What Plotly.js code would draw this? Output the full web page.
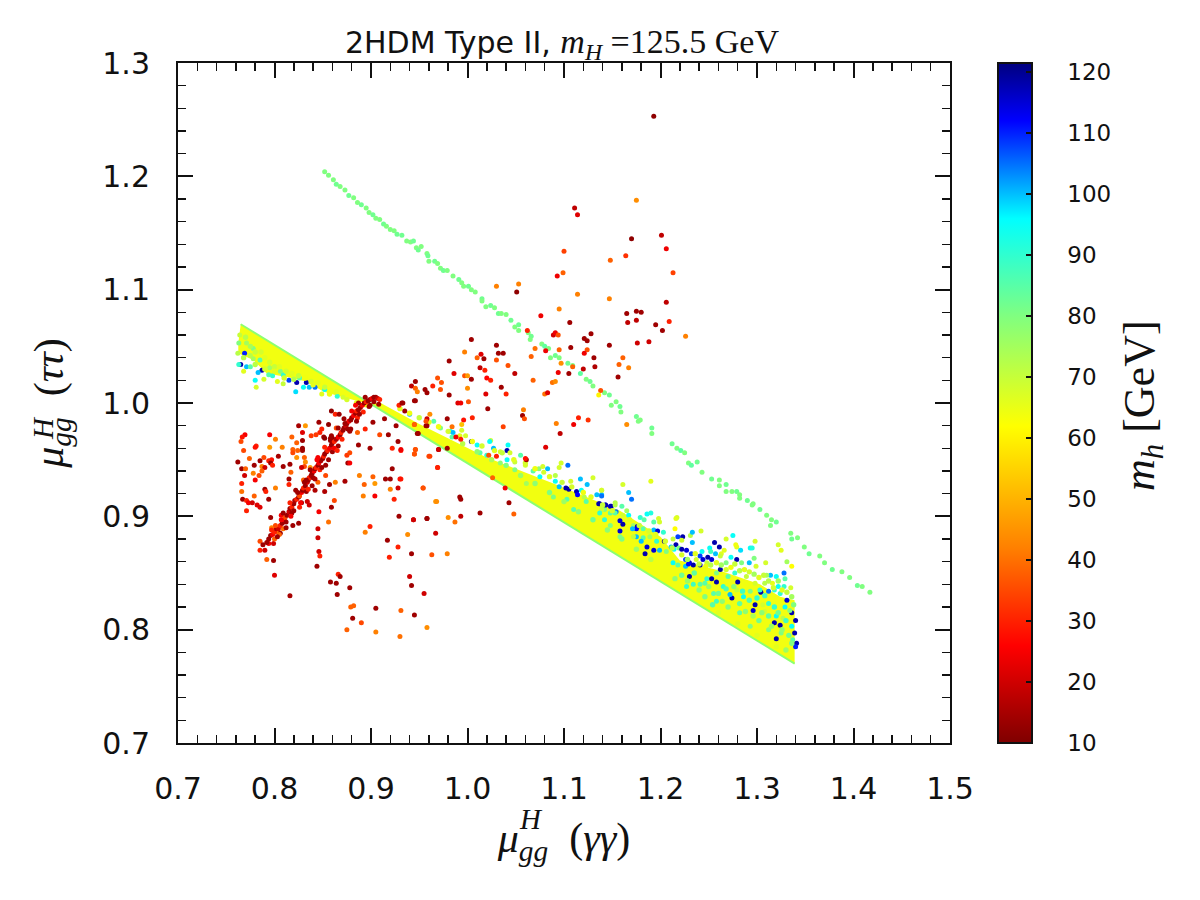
<!DOCTYPE html>
<html><head><meta charset="utf-8">
<script src="https://cdn.plot.ly/plotly-3.0.1.min.js"></script>
<style>html,body{margin:0;padding:0;background:#fff}</style></head>
<body><div id="chart" style="width:1200px;height:900px"></div>
<script>
// envelope of the densely populated band
const bandX=[.765,1.339,1.339,1.324,1.303,1.262,1.220,1.200,1.158,1.089,1.020,.951,.910,.895,.871,.851,.833,.813,.792,.778,.7625,.7625];
const bandY=[1.0695,.770,.826,.829,.840,.852,.861,.882,.905,.929,.952,.981,1.000,.9997,1.005,1.010,1.019,1.023,1.026,1.038,1.044,1.053];
const edgeX=[.765,1.339];
const edgeY=[1.0695,.770];
// coloured points on the band
const upX=[1.161,1.190,1.167,1.170,1.139,1.139,1.143,1.137,1.148,1.153,1.154,1.160,1.165,1.167,1.161,1.142,1.148,1.153,1.139,1.158,1.161,1.172,1.176,1.175,1.171,1.179,1.186,1.190,1.183,1.193,1.198,1.199,1.217,1.216,1.215,1.193,1.197,1.203,1.182,1.158,1.189,1.182,1.175,1.204,1.213,1.218,1.223,1.222,1.231,1.233,1.242,1.233,1.216,1.211,1.214,1.219,1.222,1.227,1.232,1.243,1.251,1.256,1.261,1.257,1.252,1.241,1.244,1.249,1.253,1.226,1.230,1.237,1.226,1.268,1.275,1.279,1.278,1.298,1.283,1.293,1.295,1.266,1.263,1.262,1.273,1.279,1.284,1.292,1.297,1.309,1.322,1.325,1.331,1.336,1.268,1.299,1.328,1.320,1.314,1.310,1.329,1.308,1.316,1.322,1.328,1.335,1.331,1.336,1.340,1.339,1.341,1.340,1.324,1.318,1.312,1.304,1.293,1.298,1.289,1.280,1.277,1.262,1.258,1.241,1.234,1.229,1.248,1.230,1.248,1.253,1.258,1.246,1.270,1.274,1.272,1.298,1.296,1.306,1.312,1.308,1.320,1.318,1.324,1.329,1.334,1.327,1.325,1.320,1.336,1.337,1.303,1.286,1.279,1.265,1.255,1.241,1.227,1.213,1.199,1.196,1.186,1.193,1.184,1.180,1.172,1.158,1.148,1.142,1.206,1.218,1.234,1.258,1.282,1.293,1.312,
.940,.965,.972,.982,.985,.998,.994,1.004,1.010,1.024,1.023,1.027,1.042,1.041,1.034,1.044,1.055,1.049,1.041,1.060,1.074,1.078,1.083,1.079,1.091,1.097,1.095,1.104,1.091,1.095,1.102,1.105,1.117,1.124,1.130,1.107,1.113,1.114,1.118,1.121,1.134,1.139,1.139,1.136,1.143,1.149,1.153,1.123,1.075,1.068,1.020,1.013,.984,1.049,1.089,1.110,1.137,1.103,1.061,1.034,
.763,.762,.769,.765,.763,.771,.768,.775,.787,.783,.780,.781,.789,.794,.798,.803,.809,.815,.823,.822,.830,.833,.836,.842,.852,.849,.865,.871,.809,.778,.785,.775,.795,.806,.826,.771,.764,.778];
const upY=[.928,.931,.921,.915,.923,.919,.910,.911,.909,.912,.904,.909,.905,.901,.901,.906,.903,.903,.906,.896,.893,.892,.891,.889,.889,.899,.902,.903,.897,.895,.898,.895,.899,.898,.889,.888,.887,.886,.889,.887,.882,.881,.882,.878,.880,.882,.882,.879,.883,.886,.887,.877,.875,.873,.871,.872,.871,.870,.867,.869,.872,.877,.873,.867,.869,.865,.862,.864,.862,.862,.859,.862,.856,.880,.883,.873,.875,.878,.870,.872,.872,.870,.867,.865,.864,.862,.859,.859,.863,.859,.875,.870,.860,.856,.859,.856,.850,.847,.848,.848,.845,.841,.841,.838,.838,.837,.826,.815,.808,.797,.788,.785,.832,.835,.834,.833,.834,.841,.847,.842,.850,.853,.850,.857,.857,.858,.859,.847,.845,.845,.842,.841,.847,.828,.831,.822,.817,.822,.823,.816,.812,.806,.804,.820,.817,.810,.797,.792,.803,.791,.835,.829,.835,.838,.832,.840,.838,.859,.870,.878,.873,.870,.867,.878,.882,.882,.892,.897,.869,.857,.840,.825,.815,.803,.800,
.990,.984,.978,.975,.974,.971,.976,.966,.963,.967,.966,.960,.963,.958,.957,.956,.954,.948,.950,.945,.942,.944,.942,.939,.936,.947,.943,.945,.931,.926,.925,.924,.933,.928,.934,.931,.922,.919,.923,.917,.919,.918,.923,.911,.910,.909,.910,.913,.935,.940,.954,.956,.970,.941,.917,.906,.903,.915,.929,.947,
1.053,1.044,1.044,1.034,1.034,1.032,1.028,1.032,1.029,1.027,1.020,1.014,1.021,1.025,1.024,1.019,1.017,1.020,1.018,1.010,1.014,1.018,1.014,1.014,1.012,1.008,1.006,1.005,1.025,1.048,1.038,1.042,1.031,1.028,1.022,1.053,1.060,1.039];
const upM=[68,66,100,105,68,100,115,118,115,72,105,85,75,95,68,80,85,85,70,115,118,75,118,112,100,90,95,92,85,85,68,68,68,66,62,100,115,90,85,115,75,85,100,118,70,108,118,68,72,100,68,100,118,100,95,80,118,115,108,95,95,118,118,100,88,108,115,118,115,108,115,68,100,68,95,66,64,68,98,95,92,66,66,70,95,118,80,100,80,68,68,66,75,62,80,68,105,95,100,75,85,72,65,95,90,68,115,118,118,118,118,110,90,90,105,118,80,68,70,118,90,118,80,118,118,112,70,118,90,118,118,85,85,118,100,118,115,68,90,68,95,118,118,95,80,72,80,118,95,85,90,95,70,90,85,85,90,95,100,90,115,115,118,100,70,80,80,90,80,85,88,88,85,80,80,
100,85,80,95,100,68,68,118,95,70,95,100,95,118,68,68,85,70,95,68,78,68,100,68,72,68,68,105,95,100,118,118,100,100,68,68,118,112,95,72,100,105,68,118,118,118,72,85,95,85,90,85,85,80,80,85,90,85,75,78,
80,72,110,118,90,100,66,85,118,100,95,68,68,85,90,66,70,108,118,98,95,118,100,105,95,66,90,68,90,80,85,72,75,80,85,75,70,75];
// yellow-green points filling the band
const fillX=[1.205,1.212,1.222,1.228,1.236,1.240,1.247,1.252,1.258,1.263,1.268,1.273,1.277,1.282,1.287,1.292,1.297,1.302,1.307,1.312,1.317,1.322,1.326,1.331,1.336,1.338,
1.215,1.222,1.228,1.235,1.240,1.246,1.250,1.254,1.260,1.264,1.268,1.270,1.276,1.282,1.285,1.288,1.292,1.296,1.300,1.302,1.305,1.308,1.312,1.315,1.318,1.322,1.326,1.330,1.333,1.336,1.330,1.320,1.300,1.280,1.260,
1.19,1.175,1.16,1.145,1.13,1.115,1.10,1.085,1.07,1.055,1.04,1.025,1.01,.995,
1.195,1.188,1.178,1.168,1.15,1.14,1.128,1.12,1.108,1.098,1.085,1.07,1.06,1.048,1.036,1.028,1.015,1.005,.992,.98,.97,.96,.95,.94,.93,
.770,.775,.780,.786,.790,.795,.800,.805,.812,.818,.825,.832,.838,.845,.852,.858,.864,.78,.79,.80,.81,.82,.84,.857,.875,.885,.895,.768];
const fillY=[.878,.872,.866,.862,.867,.858,.856,.857,.859,.857,.853,.855,.858,.852,.853,.851,.849,.846,.848,.843,.837,.843,.835,.833,.829,.822,
.845,.848,.843,.850,.835,.829,.838,.822,.832,.825,.836,.820,.838,.823,.834,.816,.826,.812,.828,.808,.815,.830,.812,.803,.820,.815,.800,.808,.795,.788,.782,.785,.795,.805,.815,
.862,.871,.880,.888,.897,.904,.913,.921,.929,.936,.945,.950,.957,.964,
.884,.887,.892,.897,.905,.910,.917,.921,.926,.930,.935,.942,.947,.950,.956,.958,.962,.966,.971,.975,.979,.983,.987,.991,.995,
1.058,1.050,1.045,1.045,1.040,1.036,1.032,1.032,1.028,1.026,1.024,1.022,1.019,1.018,1.014,1.011,1.010,1.034,1.030,1.028,1.022,1.021,1.016,1.008,1.003,1.000,.9985,1.040];
const fillM=[68,72,68,75,66,70,64,72,66,75,68,64,70,72,66,68,75,66,70,72,68,75,66,70,75,80,
78,82,76,84,78,80,76,85,82,78,86,80,78,84,88,78,86,74,90,82,78,88,84,76,90,82,78,88,82,80,76,66,66,66,66,
72,76,80,78,82,78,76,80,78,76,80,74,78,72,
66,68,70,66,68,70,66,64,68,70,66,64,68,66,70,66,68,64,66,68,64,66,70,64,66,
72,74,70,68,66,68,70,66,68,66,70,64,68,66,70,64,66,72,68,66,68,72,66,64,68,66,64,72];
// upper straight sequence of points
const lineX=[.852,.856,.861,.864,.868,.873,.877,.882,.886,.890,.895,.898,.902,.905,.909,.913,.916,.920,.924,.927,.932,.937,.941,.944,.947,.949,.952,.958,.959,.960,.966,.969,.972,.975,.979,.985,.991,.994,.996,1.001,1.004,1.008,1.015,1.015,1.019,1.024,1.028,1.032,1.035,1.040,1.045,1.049,1.053,1.053,1.063,1.066,1.065,1.077,1.080,1.084,1.086,1.091,1.095,1.104,1.109,1.117,1.123,1.127,1.130,1.142,1.147,1.149,1.154,1.158,1.159,1.175,1.177,1.179,1.191,1.191,1.212,1.217,1.221,1.225,1.229,1.232,1.238,1.243,1.253,1.261,1.261,1.268,1.268,1.274,1.279,1.282,1.282,1.290,1.295,1.296,1.303,1.310,1.315,1.320,1.314,1.335,1.336,1.342,1.349,1.354,1.365,1.370,1.378,1.388,1.396,1.404,1.409,1.417];
const lineY=[1.204,1.201,1.197,1.193,1.191,1.188,1.183,1.181,1.177,1.175,1.172,1.168,1.166,1.163,1.162,1.158,1.156,1.153,1.152,1.149,1.148,1.143,1.142,1.143,1.137,1.135,1.138,1.132,1.130,1.125,1.125,1.123,1.119,1.117,1.117,1.112,1.109,1.106,1.103,1.103,1.100,1.098,1.092,1.090,1.085,1.086,1.084,1.079,1.079,1.078,1.073,1.067,1.069,1.064,1.062,1.059,1.056,1.052,1.050,1.048,1.040,1.042,1.040,1.035,1.033,1.026,1.021,1.019,1.015,1.009,1.007,.998,1.001,.997,.992,.988,.984,.985,.978,.973,.964,.960,.958,.956,.947,.945,.948,.939,.933,.932,.927,.928,.922,.922,.922,.919,.916,.914,.910,.911,.906,.901,.897,.895,.892,.885,.880,.881,.873,.867,.865,.859,.853,.851,.846,.839,.838,.833];
const lineM=[80,80,80,82,80,80,82,80,80,82,80,80,82,80,80,82,80,80,80,82,82,80,80,82,80,82,80,80,82,80,82,80,80,82,80,80,82,80,80,82,80,80,82,80,80,82,80,82,80,80,82,80,82,80,80,82,80,80,84,80,80,82,80,82,80,84,80,82,80,80,82,80,80,82,80,82,80,80,82,80,82,80,84,80,80,84,82,80,82,80,80,82,80,80,82,80,80,82,80,80,82,80,80,82,80,80,82,80,80,82,80,80,82,80,80,82,80,80,80,80];
// low-mass points
const lowX=[.7694,.7666,.7653,.795,.801,.825,.832,.846,.856,.864,.859,.863,.867,.849,.847,.843,.838,.829,.818,.823,.829,.851,.852,.860,.858,.795,.808,.781,.780,.768,.829,.829,.819,.824,.819,.823,.831,.832,.804,.789,.774,.785,.797,.794,.762,.779,.796,.798,.787,.790,.809,.816,.831,.828,.837,.766,.770,.778,.769,.784,.787,.817,.780,.815,.815,.766,.830,.845,.853,.857,.863,.873,.790,.791,.801,.766,.794,.779,.767,.771,.773,.777,.782,.785,.771,.834,.836,.842,.852,.862,.859,.846,.796,.807,.856,.825,.819,.845,.845,.809,.797,.804,.785,.788,.794,.799,.785,.790,.846,.847,.792,.799,.844,.800,.866,.868,.858,.864,.878,.816,.865,.882,.879,.905,.881,.890,.875,.905,.931,.945,.930,.958,.955,.942,.940,.942,.919,.928,.917,.938,.967,.894,.899,.929,.944,.958,.924,.904,.892,.928,.920,.954,.967,.904,.893,.902,.888,.915,.920,.931,.922,.969,.960,.945,.946,.931,.922,.899,.887,.876,.878,.875,.878,.970,.894,.886,.902,.914,.926,.909,.918,.928,.948,.945,.957,.935,.929,.932,.945,
1.193,1.175,1.111,1.114,1.170,1.201,1.206,1.100,1.164,1.148,1.093,1.099,1.213,1.030,1.053,1.051,1.114,1.147,1.206,1.095,1.076,1.175,1.180,1.165,1.166,1.175,1.106,1.209,1.195,1.202,1.226,1.062,1.128,1.121,1.124,1.089,1.091,1.094,1.176,1.188,1.147,1.004,1.030,1.032,1.037,.997,1.070,1.107,1.095,1.081,1.124,1.121,1.066,1.161,1.131,1.014,1.010,1.030,1.017,.981,1.097,1.157,1.042,1.013,1.018,1.132,1.120,1.167,1.109,.986,1.049,.997,1.0,1.094,1.105,1.156,.969,.973,1.004,1.020,1.024,1.068,1.088,1.091,.946,.942,.964,.972,.946,.948,.956,.958,1.0,1.035,1.019,1.040,.981,1.080,1.083,.946,1.001,.990,.993,.933,1.021,1.058,1.057,1.059,.979,1.005,.996,1.092,1.110,1.115,1.125,1.165,1.096,1.037,.994,1.081,1.138,1.136,.970,.979,.961,.946,.945,.931,.969,1.026,1.039,1.043,.954,.930,.968,.992,.993,1.013,1.048,.993,.980,.958,.944,1.061,1.060,1.030,1.022,.949,.958,.958,.957,.945,.961,.988,.984,.993,.979,.963,.987,
.794,.796,.798,.800,.802,.804,.806,.808,.810,.811,.813,.815,.816,.818,.820,.821,.823,.825,.826,.828,.829,.830,.832,.834,.835,.836,.838,.839,.841,.842,.843,.845,.846,.848,.850,.851,.852,.854,.855,.857,.859,.860,.862,.864,.866,.868,.869,.871,.872,.874,.875,.877,.879,.880,.882,.884,.885,.887,.889,.891,.893,.895,.897,.899,.901,.903,.905,.907,.909,.908,.898,.886,.878,.860,.866,.828,.818,.812,.806,.840,.833,.847,.800,.805,.792,
.797,.803,.807,.812,.816,.820,.824,.827,.831,.835,.837,.842,.844,.849,.852,.856,.858,.862,.866,.870,.872,.876,.880,.885,.887,.892,.894,.899,.903,.801,.809,.817,.822,.826,.833,.839,.845,.853,.859,.865,.873,.879,.884,.888];
const lowY=[.972,.970,.966,.972,.968,.980,.980,.983,.981,.978,.993,.990,.990,.977,.974,.972,.971,.974,.970,.965,.967,.970,.969,.969,.967,.961,.961,.962,.961,.958,.960,.958,.959,.958,.956,.952,.952,.948,.953,.952,.951,.949,.950,.949,.948,.945,.947,.945,.944,.943,.944,.946,.944,.943,.943,.942,.942,.938,.936,.936,.940,.939,.932,.933,.928,.929,.932,.930,.936,.928,.930,.931,.924,.922,.925,.922,.915,.918,.915,.914,.912,.912,.910,.908,.905,.913,.910,.923,.922,.914,.908,.904,.899,.901,.895,.894,.892,.889,.881,.889,.890,.886,.878,.875,.876,.876,.870,.870,.869,.865,.862,.861,.856,.848,.849,.847,.842,.841,.837,.830,.831,.821,.820,.819,.810,.806,.800,.798,.817,.813,.794,.802,.832,.839,.847,.867,.864,.873,.879,.884,.885,.886,.891,.900,.897,.898,.915,.918,.918,.925,.924,.925,.913,.929,.928,.935,.936,.933,.933,.933,.942,.943,.953,.955,.959,.958,.960,.960,.963,.947,.947,.954,.956,.959,.977,.974,.983,.986,.980,.972,.972,.966,.973,.981,.980,.993,.998,1.000,1.002,
1.253,1.179,1.172,1.166,1.145,1.148,1.136,1.134,1.130,1.126,1.112,1.115,1.115,1.103,1.105,1.098,1.096,1.092,1.089,1.083,1.077,1.081,1.080,1.079,1.071,1.073,1.071,1.072,1.069,1.064,1.059,1.064,1.061,1.057,1.055,1.060,1.062,1.060,1.053,1.054,1.051,1.056,1.051,1.044,1.044,1.045,1.048,1.049,1.047,1.046,1.047,1.044,1.041,1.040,1.040,1.043,1.040,1.038,1.039,1.037,1.035,1.034,1.033,1.031,1.029,1.032,1.030,1.031,1.032,1.026,1.026,1.024,1.024,1.027,1.026,1.023,1.022,1.018,1.021,1.022,1.020,1.020,1.018,1.019,1.019,1.015,1.015,1.012,1.013,1.010,1.012,1.009,1.013,1.014,1.008,1.008,1.007,1.008,1.009,1.002,1.001,1.000,1.000,1.0,.995,.994,.989,.986,.986,.987,.985,.982,.981,.987,.985,.981,.973,.979,.981,.961,1.011,1.007,.959,.960,.953,.959,.955,.959,.943,.934,.925,.912,.925,.933,.913,.917,.915,.903,.902,.900,.899,.898,.897,.950,.951,.953,.954,.973,.980,.986,.984,.981,.990,.970,.979,.968,.867,.866,.895,
.880,.883,.884,.886,.889,.889,.892,.894,.897,.899,.901,.904,.907,.908,.911,.914,.915,.917,.918,.921,.923,.925,.927,.930,.932,.934,.936,.938,.940,.942,.943,.945,.947,.949,.951,.953,.955,.957,.958,.960,.963,.965,.966,.968,.970,.972,.974,.976,.978,.980,.982,.984,.985,.987,.989,.991,.993,.994,.996,.998,1.000,1.001,1.002,1.003,1.004,1.005,1.005,1.004,1.003,.999,.997,.987,.975,.957,.962,.912,.903,.895,.885,.934,.922,.941,.880,.884,.877,
.888,.882,.897,.890,.912,.905,.921,.912,.930,.924,.941,.933,.950,.943,.961,.950,.969,.960,.978,.968,.986,.977,.993,.984,1.000,.992,1.005,.998,1.001,.892,.903,.900,.923,.908,.932,.927,.952,.945,.971,.958,.982,.977,.998,.990];
const lowM=[25,28,35,25,42,15,46,14,12,35,12,30,14,30,30,33,33,22,38,38,14,14,12,12,12,46,42,30,28,35,14,14,38,38,35,45,38,44,15,35,38,14,28,30,14,14,14,30,42,20,14,14,35,20,45,14,38,42,20,35,38,38,25,14,30,30,38,38,35,14,42,15,14,30,42,40,14,38,14,30,25,20,22,22,30,20,20,16,16,35,14,25,14,25,40,14,14,20,20,40,42,40,35,14,25,20,30,20,20,30,38,14,14,22,30,14,14,14,14,15,14,38,38,14,14,35,38,42,38,14,40,44,20,14,20,14,30,30,14,44,20,42,30,14,20,14,30,25,42,20,42,35,46,46,38,38,42,14,14,30,14,30,35,38,36,28,30,14,14,14,25,33,35,14,30,38,14,14,14,35,14,14,14,35,14,14,30,14,14,
12,44,18,22,12,18,24,34,32,38,24,38,34,42,42,12,42,42,18,42,24,14,14,14,18,18,14,30,14,14,42,30,14,14,14,20,24,36,20,20,14,14,14,14,14,42,40,14,38,24,36,24,38,38,14,22,38,36,14,14,44,38,36,18,30,16,18,42,38,22,18,36,46,24,14,14,36,36,14,26,30,38,40,44,14,18,30,36,38,42,14,14,44,14,22,30,14,40,22,14,36,22,24,14,14,42,14,36,14,30,28,42,24,30,32,44,18,34,52,22,36,60,20,14,34,36,36,24,30,38,24,14,36,28,44,14,14,14,38,18,44,14,20,14,28,30,36,14,14,20,36,38,44,24,40,30,42,36,40,
14,14,25,30,16,20,30,14,25,35,14,20,14,30,14,16,30,14,35,25,14,30,14,20,14,30,16,14,25,14,30,14,25,16,14,30,14,14,30,25,14,14,30,16,25,14,30,14,14,20,14,25,14,14,25,14,30,14,14,25,14,30,14,14,25,14,14,20,30,14,14,30,14,14,14,14,14,14,14,14,14,30,38,38,14,
30,14,25,14,30,14,14,25,14,30,14,16,25,14,30,14,14,25,14,30,14,14,25,14,14,30,14,14,14,35,14,25,14,30,14,14,25,14,14,30,14,14,25,14];
const cscale=[[0,'#7f0000'],[.143,'#ff0000'],[.287,'#ff8000'],[.466,'#ffff00'],[.628,'#80ff80'],[.771,'#00ffff'],[.915,'#0000ff'],[1,'#00007f']];
const xTicks=[.7,.8,.9,1,1.1,1.2,1.3,1.4,1.5];
const yTicks=[.7,.8,.9,1,1.1,1.2,1.3];
const cbTicks=[10,20,30,40,50,60,70,80,90,100,110,120];
const SANS='"DejaVu Sans",sans-serif', SERIF='"Liberation Serif",serif';
const dots=(x,y,m,size,name)=>({type:'scatter',mode:'markers',name,x,y,hoverinfo:'skip',marker:{size,color:m,coloraxis:'coloraxis',line:{width:0}}});
const traces=[
 {type:'scatter',mode:'lines',x:bandX,y:bandY,fill:'toself',fillcolor:'#f2ff10',line:{width:0},hoverinfo:'skip',name:'band'},
 dots(upX,upY,upM,5,'band points'),
 dots(fillX,fillY,fillM,5.4,'band fill points'),
 {type:'scatter',mode:'lines',x:edgeX,y:edgeY,line:{color:'#8cff70',width:2},hoverinfo:'skip',name:'edge'},
 dots(lineX,lineY,lineM,5,'line points'),
 dots(lowX,lowY,lowM,5,'low mass')
];
const axis=(ticks,range,off)=>({range,tickvals:ticks,ticktext:ticks.map(v=>v.toFixed(1)),ticks:'inside',ticklen:15,tickwidth:2,tickcolor:'#111',ticklabelstandoff:off,
 showline:true,linecolor:'#111',linewidth:2,mirror:'allticks',showgrid:false,zeroline:false,
 tickfont:{family:SANS,size:30,color:'#111'},
 minor:{dtick:.02,tick0:.7,ticks:'inside',ticklen:8,tickwidth:1.5,tickcolor:'#111',showgrid:false}});
const titleFont={family:SERIF,size:42,color:'#111'};
const xaxis=axis(xTicks,[.7,1.5],18);
xaxis.title={text:'<i>μ<sub>gg</sub></i>\u00a0\u00a0(<i>γγ</i>)',font:titleFont,standoff:18};
const yaxis=axis(yTicks,[.7,1.3],20);
yaxis.title={text:'<i>μ<sub>gg</sub></i>\u00a0\u00a0(<i>ττ</i>)',font:titleFont,standoff:26};
const layout={width:1200,height:900,margin:{l:178,r:250,t:63,b:157},paper_bgcolor:'#fff',plot_bgcolor:'#fff',showlegend:false,
 title:{text:'2HDM Type II, <span style="font-family:\'Liberation Serif\';font-size:34px"><i>m<sub>H</sub></i> =125.5 GeV</span>',font:{family:SANS,size:30,color:'#111'},x:.4683,xanchor:'center',y:.953,yanchor:'middle'},
 xaxis,yaxis,
 coloraxis:{cmin:10,cmax:121.5,colorscale:cscale,colorbar:{x:1.0622,xanchor:'left',xpad:0,ypad:0,y:.5,yanchor:'middle',len:1,lenmode:'fraction',thickness:34,thicknessmode:'pixels',outlinewidth:2,outlinecolor:'#111',ticks:'inside',ticklen:7,tickwidth:1.5,tickcolor:'#111',tickvals:cbTicks,ticktext:cbTicks.map(v=>'\u00a0\u00a0\u00a0\u00a0'+v),tickfont:{family:SANS,size:23,color:'#111'}}},
 annotations:[
  {xref:'paper',yref:'paper',x:1.25,y:.4956,xanchor:'center',yanchor:'middle',text:'<i>m<sub>h</sub></i> [GeV]',textangle:-90,showarrow:false,font:{family:SERIF,size:44,color:'#111'}},
  {xref:'paper',yref:'paper',x:.457,y:-.112,xanchor:'center',yanchor:'middle',text:'<i>H</i>',showarrow:false,font:{family:SERIF,size:29,color:'#111'}},
  {xref:'paper',yref:'paper',x:-.175,y:.463,xanchor:'center',yanchor:'middle',text:'<i>H</i>',textangle:-90,showarrow:false,font:{family:SERIF,size:29,color:'#111'}}
 ]};
Plotly.newPlot('chart',traces,layout,{displayModeBar:false,staticPlot:true});
</script></body></html>
